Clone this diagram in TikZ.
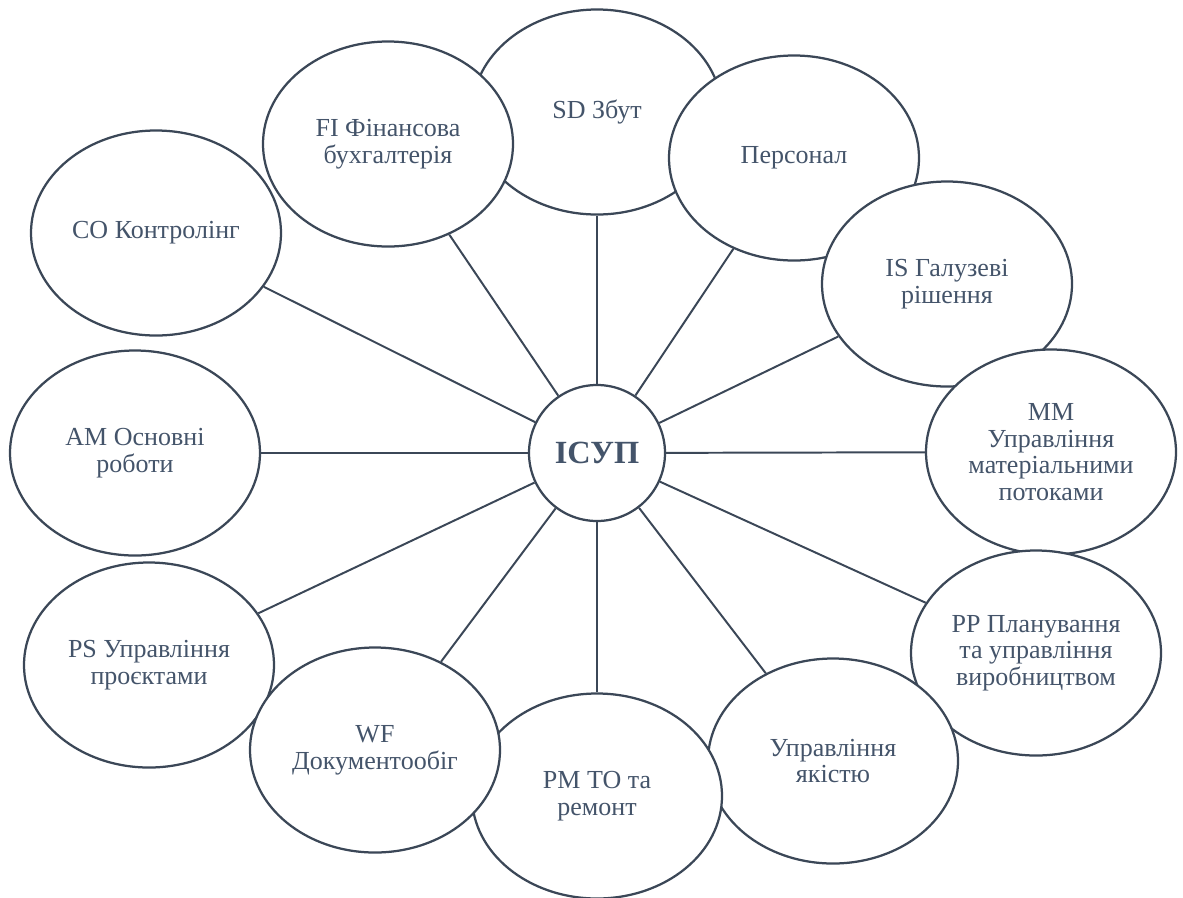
\documentclass[tikz,border=0pt]{standalone}
\usepackage{fontspec}
\setmainfont{Liberation Serif}
\usetikzlibrary{shapes.geometric}

\definecolor{kontur}{HTML}{3B4757}
\definecolor{tekst}{HTML}{44546A}

\tikzset{
    modul/.style={ellipse, draw=kontur, line width=1.6pt, fill=white, text=tekst,
        minimum width=62.5mm, minimum height=51.25mm, inner sep=0pt, align=center,
        font=\fontsize{18.5}{19}\selectfont},
    yadro/.style={circle, draw=kontur, line width=1.6pt, fill=white, text=tekst,
        minimum size=34mm, inner sep=0pt, font=\fontsize{23}{26}\selectfont\bfseries},
    zvyazok/.style={draw=kontur, line width=1.4pt}
}

\begin{document}
\begin{tikzpicture}[x=0.25mm, y=-0.25mm]

    % Рамка
    \useasboundingbox (0,0) rectangle (1183,897);

    % Модулі
    \node[modul] (sd) at (597,112) {SD Збут};
    \node[modul] (hr) at (794,158) {Персонал};
    \node[modul] (is) at (947,284) {IS Галузеві\\рішення};
    \node[modul] (mm) at (1051,452) {MM\\Управління\\матеріальними\\потоками};
    \node[modul] (pp) at (1036,653) {PP Планування\\та управління\\виробництвом};
    \node[modul] (qm) at (833,761) {Управління\\якістю};
    \node[modul] (pm) at (597,796) {PM ТО та\\ремонт};
    \node[modul] (ps) at (149,665) {PS Управління\\проєктами};
    \node[modul] (wf) at (375,750) {WF\\Документообіг};
    \node[modul] (am) at (135,453) {AM Основні\\роботи};
    \node[modul] (co) at (156,233) {CO Контролінг};
    \node[modul] (fi) at (388,144) {FI Фінансова\\бухгалтерія};

    % Центр
    \node[yadro] (isup) at (597,453) {ІСУП};

    % Зв'язки
    \foreach \m in {sd,hr,is,mm,pp,qm,pm,wf,ps,am,co,fi}
        \draw[zvyazok] (isup) -- (\m);

\end{tikzpicture}
\end{document}
